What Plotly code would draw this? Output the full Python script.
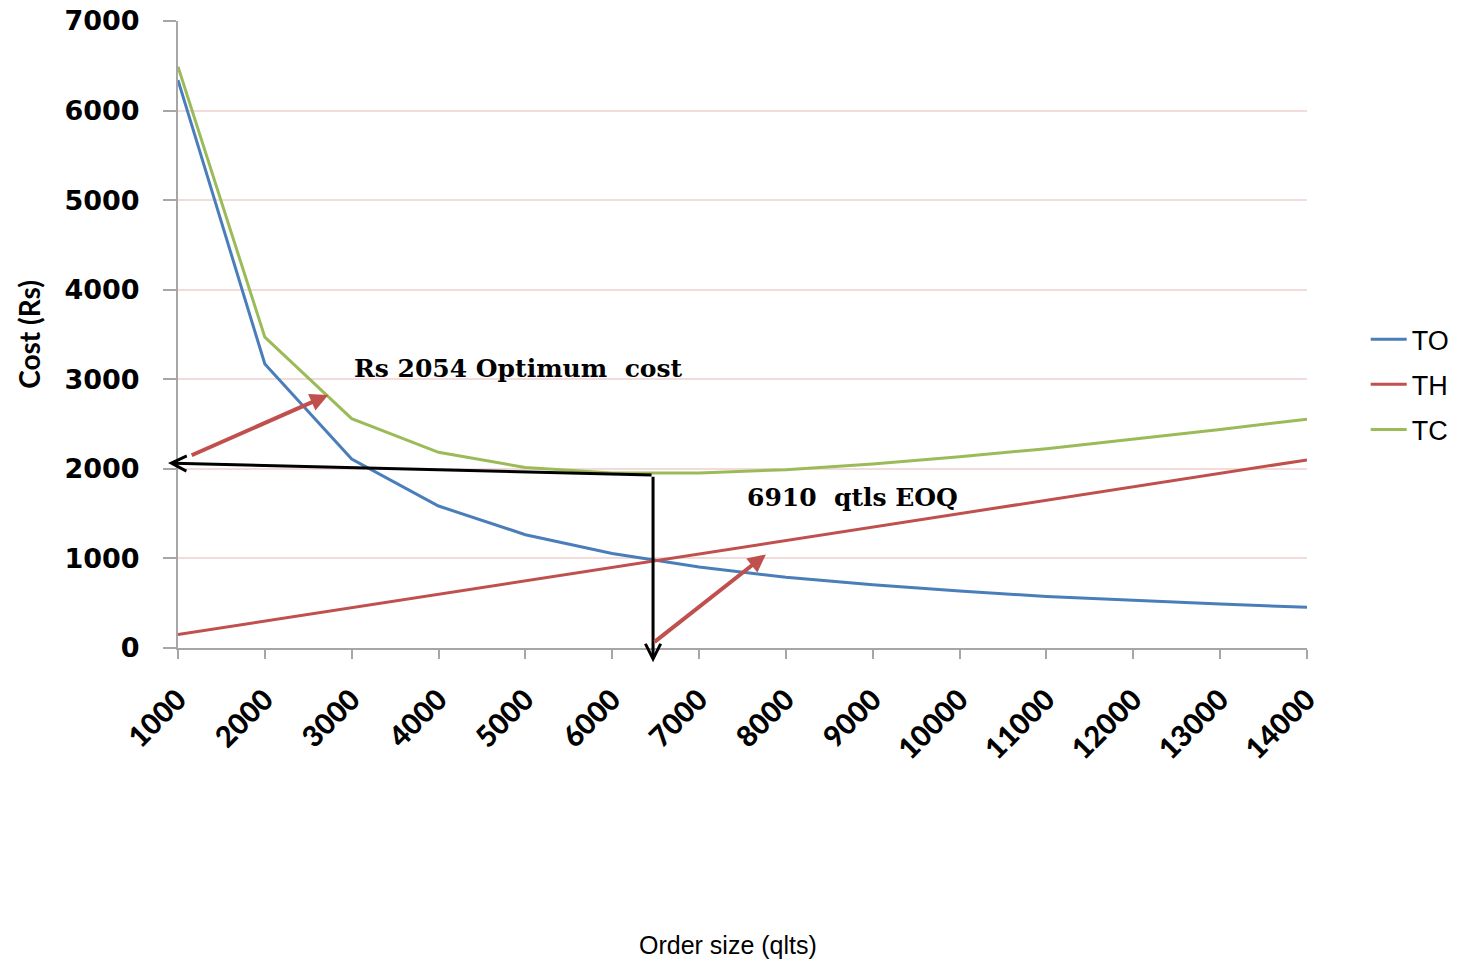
import plotly.graph_objects as go

# Order sizes (qtls) and the cost components read for each
order_size = [1000, 2000, 3000, 4000, 5000, 6000, 7000,
              8000, 9000, 10000, 11000, 12000, 13000, 14000]
to_cost = [6340, 3170, 2110, 1585, 1265, 1055, 905,
           790, 705, 635, 575, 530, 490, 455]
th_cost = [150, 300, 450, 600, 750, 900, 1050,
           1200, 1350, 1500, 1650, 1800, 1950, 2100]
tc_cost = [6490, 3470, 2560, 2185, 2015, 1955, 1955,
           1990, 2055, 2135, 2225, 2330, 2440, 2555]

series_names = ["TO", "TH", "TC"]
series_colors = ["#4A7EBB", "#C0504D", "#9BBB59"]

# Guide lines from the optimum point to the axes, and pointer arrows
corner = (6470, 1930)
cost_axis_end = (885, 2065)
size_axis_end = (6470, -160)
cost_pointer = ((1140, 2145), (2730, 2825))
eoq_pointer = ((6470, 55), (7770, 1045))

cost_label = ("Rs 2054 Optimum  cost", 4915, 3125)
eoq_label = ("6910  qtls EOQ", 8772, 1680)

fig = go.Figure()
for name, values, color in zip(series_names, [to_cost, th_cost, tc_cost], series_colors):
    fig.add_trace(go.Scatter(
        x=order_size, y=values, name=name, mode="lines", legendgroup=name,
        line=dict(color=color, width=3),
    ))

arrows = []
# black guide arrows (open heads)
for tip in (cost_axis_end, size_axis_end):
    arrows.append(dict(
        x=tip[0], y=tip[1], ax=corner[0], ay=corner[1],
        xref="x", yref="y", axref="x", ayref="y",
        text="", showarrow=True, arrowhead=5, arrowsize=1.0,
        arrowwidth=3, arrowcolor="#000000",
    ))
# red pointer arrows
for tail, tip in (cost_pointer, eoq_pointer):
    arrows.append(dict(
        x=tip[0], y=tip[1], ax=tail[0], ay=tail[1],
        xref="x", yref="y", axref="x", ayref="y",
        text="", showarrow=True, arrowhead=2, arrowsize=0.9,
        arrowwidth=4, arrowcolor="#C0504D",
    ))

labels = []
for text, lx, ly in (cost_label, eoq_label):
    labels.append(dict(
        x=lx, y=ly, xref="x", yref="y", text=text, showarrow=False,
        font=dict(family="DejaVu Serif", size=25, color="#000000", weight="bold"),
    ))
# horizontal axis title
labels.append(dict(
    x=0.4872, y=-0.474, xref="paper", yref="paper", text="Order size (qlts)",
    showarrow=False, xanchor="center", yanchor="middle",
    font=dict(family="Liberation Sans", size=25, color="#000000"),
))

fig.update_layout(
    width=1469, height=963,
    margin=dict(l=178, r=162, t=21, b=315, autoexpand=False),
    paper_bgcolor="white", plot_bgcolor="white",
    showlegend=True,
    legend=dict(
        x=1.052, y=0.42, xanchor="left", yanchor="middle",
        font=dict(family="Liberation Sans", size=27, color="#000000"),
        bgcolor="rgba(0,0,0,0)", tracegroupgap=7, itemwidth=36,
    ),
    annotations=arrows + labels,
)

fig.update_xaxes(
    range=[1000, 14000], tickmode="array", tickvals=order_size,
    ticktext=[str(v) for v in order_size], tickangle=-45,
    tickfont=dict(family="Lato", size=29, color="#000000", weight=900),
    ticks="outside", ticklen=9, tickwidth=2, tickcolor="#A6A6A6",
    ticklabelstandoff=12, automargin=False,
    showline=True, linecolor="#A6A6A6", linewidth=2,
    showgrid=False, zeroline=False,
)

fig.update_yaxes(
    range=[0, 7000], dtick=1000, tick0=0,
    tickfont=dict(family="DejaVu Sans", size=27, color="#000000", weight="bold"),
    ticks="outside", ticklen=13, tickwidth=2, tickcolor="#A6A6A6",
    ticklabelstandoff=18, automargin=False,
    showline=True, linecolor="#A6A6A6", linewidth=2,
    showgrid=True, gridcolor="#F2DCDB", gridwidth=1.5, zeroline=False,
    title=dict(text="Cost (Rs)", standoff=16,
               font=dict(family="Lato", size=28, color="#000000", weight="bold")),
)

fig.write_html("out.html")
